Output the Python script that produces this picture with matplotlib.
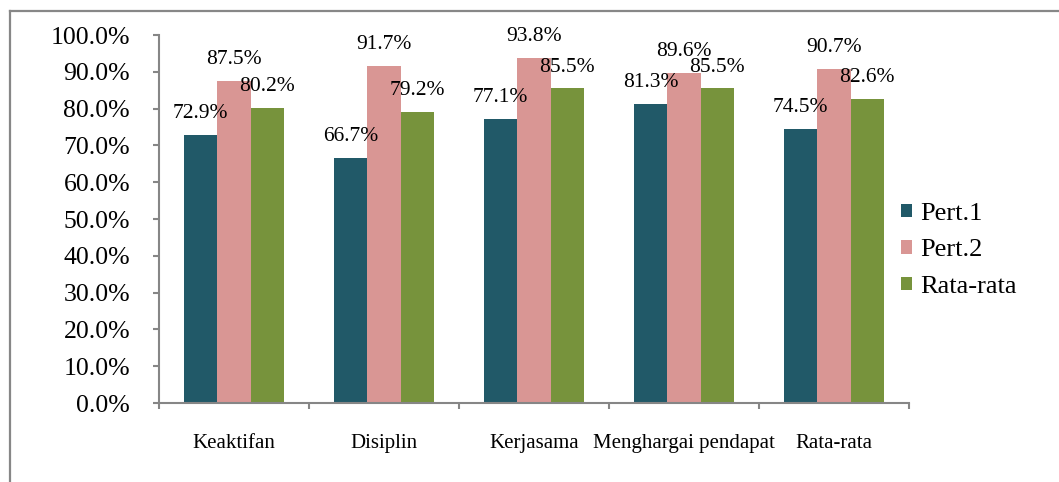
import matplotlib
matplotlib.use("Agg")
import matplotlib.pyplot as plt
from matplotlib.lines import Line2D
import numpy as np

categories = ["Keaktifan", "Disiplin", "Kerjasama", "Menghargai pendapat", "Rata-rata"]
pert1 = [72.9, 66.7, 77.1, 81.3, 74.5]
pert2 = [87.5, 91.7, 93.8, 89.6, 90.7]
rata = [80.2, 79.2, 85.5, 85.5, 82.6]
series_names = ["Pert.1", "Pert.2", "Rata-rata"]
colors = ["#215968", "#D99694", "#77933C"]
yticks = [0, 10, 20, 30, 40, 50, 60, 70, 80, 90, 100]

plt.rcParams["font.family"] = ["Liberation Serif", "DejaVu Serif"]
axis_gray = "#868686"

fig = plt.figure(figsize=(10.59, 4.82), dpi=100)
ax = fig.add_axes([159 / 1059, 1 - 403 / 482, 750 / 1059, 368 / 482])

x = np.arange(len(categories))
width = 2 / 9
for i, (vals, name, col) in enumerate(zip([pert1, pert2, rata], series_names, colors)):
    pos = x + (i - 1) * width
    ax.bar(pos, vals, width=width, color=col, label=name, linewidth=0)
    for px, v in zip(pos, vals):
        ax.annotate(f"{v:.1f}%", (px, v), xytext=(0, 8.5), textcoords="offset points",
                    ha="center", va="bottom", fontsize=15.5)

ax.set_xlim(-0.5, len(categories) - 0.5)
ax.set_ylim(0, 100)
ax.set_yticks(yticks)
ax.set_yticklabels([f"{t:.1f}%" for t in yticks], fontsize=18.5)
ax.set_xticks(x)
ax.set_xticklabels(categories, fontsize=15)
ax.set_xticks(np.arange(len(categories) + 1) - 0.5, minor=True)
ax.tick_params(axis="x", which="major", length=0, pad=22)
ax.tick_params(axis="x", which="minor", length=6 * 0.72, width=1.5, color=axis_gray, direction="out")
ax.tick_params(axis="y", length=6 * 0.72, width=1.5, color=axis_gray, pad=16.5)

for side in ["top", "right"]:
    ax.spines[side].set_visible(False)
for side in ["left", "bottom"]:
    ax.spines[side].set_color(axis_gray)
    ax.spines[side].set_linewidth(1.5)

leg = ax.legend(loc="center left", bbox_to_anchor=(0.958, 0.415), frameon=False, fontsize=19,
                handlelength=0.42, handleheight=0.42, handletextpad=0.3, labelspacing=0.55)

# outer chart frame (only top and left visible)
fig.add_artist(Line2D([10 / 1059, 10 / 1059], [0, 1 - 11 / 482], color="#878787", linewidth=1.6,
                      transform=fig.transFigure))
fig.add_artist(Line2D([10 / 1059, 1], [1 - 11 / 482, 1 - 11 / 482], color="#878787", linewidth=1.6,
                      transform=fig.transFigure))

fig.savefig("out.png", dpi=100)
